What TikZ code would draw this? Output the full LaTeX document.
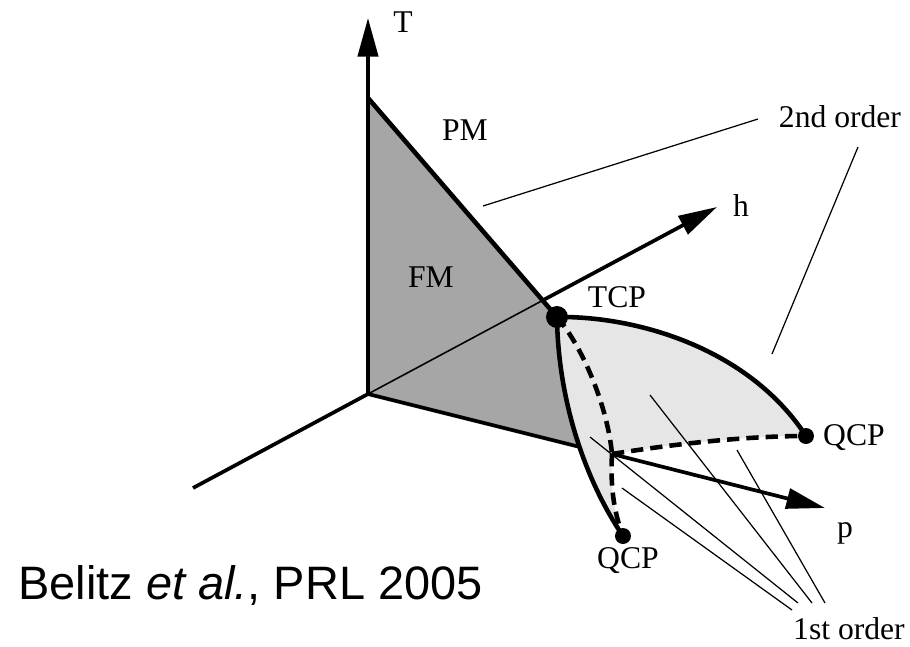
\documentclass[tikz,border=0pt]{standalone}
\usepackage{fontspec}
\setmainfont{Liberation Serif}
\newfontfamily\citefont{Liberation Sans}
\usepackage{xcolor}
\usepackage{tikz}
\usetikzlibrary{arrows.meta, calc}
\definecolor{fmgray}{HTML}{A6A6A6}
\definecolor{sheetgray}{HTML}{E6E6E6}

\begin{document}
\begin{tikzpicture}[
  axisline/.style={line width=2.1pt},
  phaseline/.style={line width=2.6pt},
  firstline/.style={line width=2.6pt, dash pattern=on 7pt off 4pt},
  leader/.style={line width=0.7pt},
  cpdot/.style={fill=black},
  lbl/.style={font=\fontsize{18}{20}\selectfont, anchor=base},
  axisarrow/.style={-{Triangle[length=22pt,width=11.5pt]}}
]
  \useasboundingbox (-7.36,-5.04) rectangle (10.84,7.88);
  \coordinate (O) at (0,0);
  \coordinate (Ttop) at (0,7.52);
  \coordinate (T0) at (0,5.92);
  \coordinate (hback) at (-3.5,-1.88);
  \coordinate (htip) at (6.98,3.74);
  \coordinate (TCP) at (3.78,1.54);
  \coordinate (qcpR) at (8.76,-0.84);
  \coordinate (qcpL) at (5.1,-2.84);
  \coordinate (C) at (4.88,-1.2);
  \coordinate (B) at (4.24,-1.06);
  \coordinate (ptip) at (9.14,-2.28);
  \coordinate (hx) at (intersection of T0--TCP and O--htip);

  \fill[fmgray] (T0) -- (TCP) .. controls (3.8,-0.12) and (4.34,-1.72) .. (qcpL)
    -- (B) -- (O) -- cycle;
  \fill[sheetgray] (TCP) .. controls (5.44,1.56) and (7.64,0.88) .. (qcpR)
    .. controls (7.64,-0.84) and (6.24,-0.98) .. (C)
    .. controls (4.84,-1.92) and (4.94,-2.42) .. (qcpL)
    .. controls (4.34,-1.72) and (3.8,-0.12) .. (TCP) -- cycle;

  \draw[line width=0.9pt] (O) -- (hx);
  \draw[axisline, axisarrow] (O) -- (Ttop);
  \draw[axisline] (O) -- (hback);
  \draw[axisline] (O) -- (B);
  \draw[axisline, axisarrow] (hx) -- (htip);
  \draw[axisline, axisarrow] (C) -- (ptip);
  \draw[phaseline] (T0) -- (TCP);

  \draw[phaseline] (TCP) .. controls (5.44,1.56) and (7.64,0.88) .. (qcpR);
  \draw[phaseline] (TCP) .. controls (3.8,-0.12) and (4.34,-1.72) .. (qcpL);
  \draw[firstline] (TCP) .. controls (4.34,0.88) and (4.8,-0.32) .. (C);
  \draw[firstline] (C) .. controls (6.24,-0.98) and (7.64,-0.84) .. (qcpR);
  \draw[firstline] (C) .. controls (4.84,-1.92) and (4.94,-2.42) .. (qcpL);

  \fill[cpdot] (TCP) circle (0.22);
  \fill[cpdot] (qcpR) circle (0.16);
  \fill[cpdot] (qcpL) circle (0.16);

  \coordinate (sa1) at (2.3,3.76);
  \coordinate (sb1) at (7.8,5.5);
  \coordinate (sa2) at (9.8,4.94);
  \coordinate (sb2) at (8.08,0.8);
  \draw[leader] (sa1) -- (sb1);
  \draw[leader] (sa2) -- (sb2);
  \foreach \sx/\sy/\ex/\ey [count=\i] in {4.44/-0.86/8.6/-4.18, 5.08/-1.88/8.48/-4.32,
      5.64/-0.02/8.88/-4.18, 7.38/-1.12/9.14/-4.18} {
    \coordinate (fa\i) at (\sx,\sy);
    \coordinate (fb\i) at (\ex,\ey);
    \draw[leader] (fa\i) -- (fb\i);
  }

  \node[lbl] (Tlab) at (0.70,7.24) {T};
  \node[lbl] (PMlab) at (1.94,5.08) {PM};
  \node[lbl] (FMlab) at (1.26,2.14) {FM};
  \node[lbl] (TCPlab) at (4.98,1.74) {TCP};
  \node[lbl] (hlab) at (7.46,3.56) {h};
  \node[lbl] (second) at (9.44,5.34) {2nd order};
  \node[lbl] (QCPRlab) at (9.72,-1.02) {QCP};
  \node[lbl] (plab) at (9.54,-2.86) {p};
  \node[lbl] (QCPLlab) at (5.2,-3.48) {QCP};
  \node[lbl] (first) at (9.62,-4.9) {1st order};
  \node[anchor=base west, inner sep=0pt, font=\citefont\fontsize{26.7}{30}\selectfont]
    (cite) at (-7.0,-4.1) {Belitz \textit{et al.}, PRL 2005};
\end{tikzpicture}
\end{document}
